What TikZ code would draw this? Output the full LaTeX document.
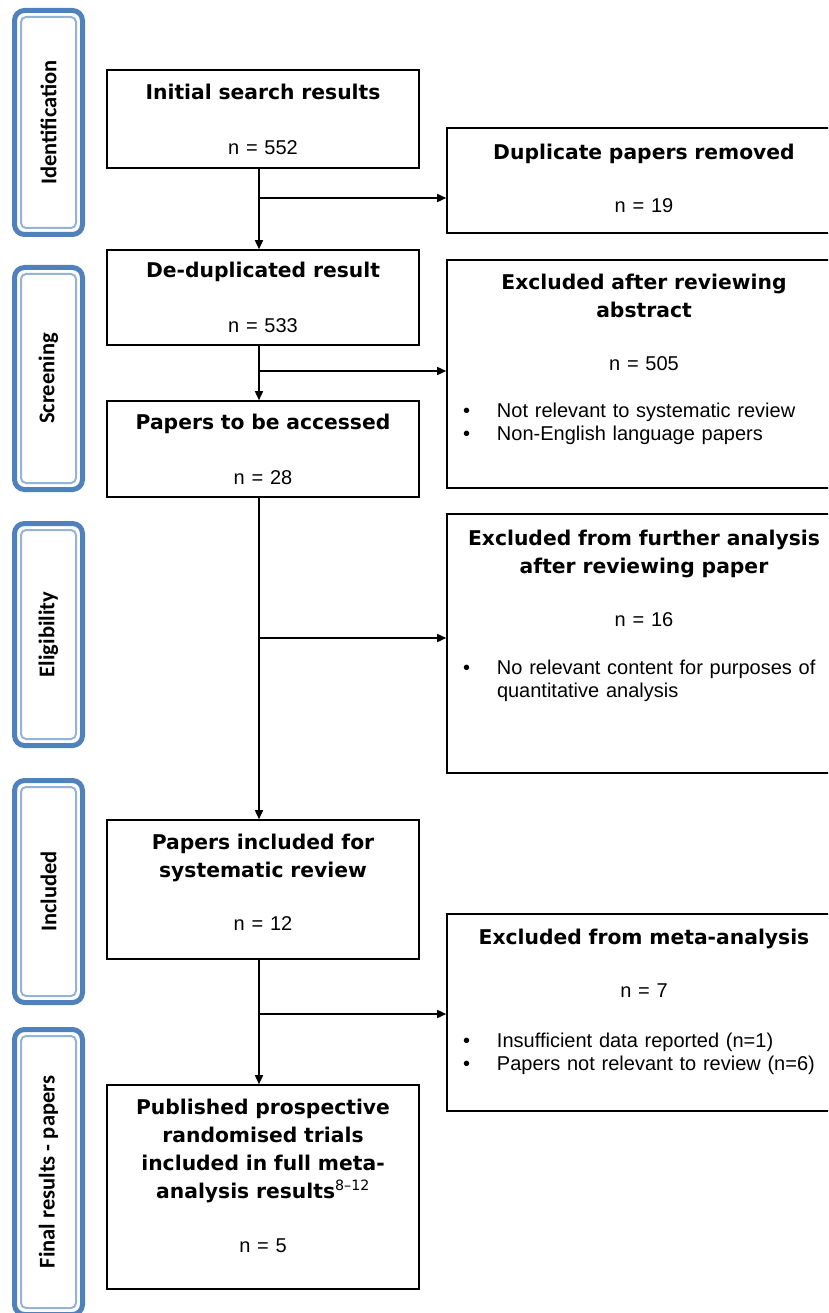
\documentclass[tikz,border=0pt]{standalone}
\usepackage{fontspec}
\setmainfont{Liberation Sans}
\newfontfamily\headfont{DejaVu Sans}
\newfontfamily\phasefont{Carlito}
\usetikzlibrary{arrows.meta}
\definecolor{phaseblue}{HTML}{4F81BD}
\definecolor{phaselight}{HTML}{95B3D7}
\newcommand{\bodytext}{\normalfont\fontsize{20}{23}\selectfont}
\newcommand{\bulletline}[1]{\makebox[34pt][l]{\textbullet}#1}
\newcommand{\bulletlist}[1]{\parbox[t]{380pt}{\bodytext\leftskip=9pt #1}}

\begin{document}
\begin{tikzpicture}[x=1pt, y=-1pt, line width=1.6pt, >={Triangle[length=9pt,width=8pt]},
        flow/.style={draw, rectangle, align=center, inner xsep=7pt, inner ysep=0pt,
            font=\headfont\bfseries\fontsize{20.3}{28}\selectfont},
        leftbox/.style={flow, text width=298pt, minimum width=312pt},
        rightbox/.style={flow, text width=380pt, minimum width=394pt},
        phase/.style={draw=phaseblue, line width=5pt, rounded corners=10pt, outer sep=0pt,
            minimum width=68pt, font=\phasefont\bfseries\fontsize{22.5}{26}\selectfont},
        phaseinner/.style={draw=phaselight, line width=2pt, rounded corners=5pt}]
    \path[use as bounding box, fill=white] (0,0) rectangle (828,1313);
    \clip (0,0) rectangle (828,1313);

    \node[phase, minimum height=224pt] (pident) at (48.5,122.5) {\rotatebox{90}{Identification}};
    \node[phase, minimum height=222pt] (pscreen) at (48.5,378.5) {\rotatebox{90}{Screening}};
    \node[phase, minimum height=222pt] (pelig) at (48.5,634.5) {\rotatebox{90}{Eligibility}};
    \node[phase, minimum height=222pt] (pincl) at (48.5,891.5) {\rotatebox{90}{Included}};
    \node[phase, minimum height=285pt] (pfinal) at (48.5,1172) {\rotatebox{90}{Final results - papers}};
    \foreach \p in {pident,pscreen,pelig,pincl,pfinal}
        \draw[phaseinner] ([shift={(6.5pt,6.5pt)}]\p.south west) rectangle ([shift={(-6.5pt,-6.5pt)}]\p.north east);

    \node[leftbox, minimum height=98pt] (init) at (263,119) {Initial search results\\[27pt]{\bodytext n = 552}};
    \node[leftbox, minimum height=95pt] (dedup) at (263,297.5) {De-duplicated result\\[27pt]{\bodytext n = 533}};
    \node[leftbox, minimum height=96pt] (access) at (263,449) {Papers to be accessed\\[27pt]{\bodytext n = 28}};
    \node[leftbox, minimum height=139pt, text depth=96pt] (included) at (263,889.5)
        {Papers included for\\systematic review\\[25pt]{\bodytext n = 12}};
    \node[leftbox, minimum height=204pt, text depth=161pt] (published) at (263,1187)
        {Published prospective\\randomised trials\\included in full meta-\\analysis results\textsuperscript{\mdseries 8–12}\\[26pt]{\bodytext n = 5}};

    \node[rightbox, minimum height=105pt, text depth=58pt] (dup) at (644,180.5) {Duplicate papers removed\\[25pt]{\bodytext n = 19}};
    \node[rightbox, minimum height=228pt, text depth=185pt] (abst) at (644,374)
        {Excluded after reviewing\\abstract\\[25pt]{\bodytext n = 505}\\[19pt]%
        \bulletlist{\bulletline{Not relevant to systematic review}\\\bulletline{Non-English language papers}}};
    \node[rightbox, minimum height=259pt, text depth=212pt] (further) at (644,643.5)
        {Excluded from further analysis\\after reviewing paper\\[25pt]{\bodytext n = 16}\\[20pt]%
        \bulletlist{\bulletline{No relevant content for purposes of}\\\hspace*{34pt}quantitative analysis}};
    \node[rightbox, minimum height=197pt, text depth=152pt] (meta) at (644,1012.5)
        {Excluded from meta-analysis\\[25pt]{\bodytext n = 7}\\[22pt]%
        \bulletlist{\bulletline{Insufficient data reported (n=1)}\\\bulletline{Papers not relevant to review (n=6)}}};

    \coordinate (b1) at (259,198);
    \coordinate (b2) at (259,371);
    \coordinate (b3) at (259,638);
    \coordinate (b4) at (259,1014);
    \foreach \u/\v/\w/\b in {init/dedup/dup/b1, dedup/access/abst/b2, access/included/further/b3, included/published/meta/b4}{
        \draw[->] (\u.south -| \b) -- (\v.north -| \b);
        \draw[->] (\b) -- (\b -| \w.west);
    }
\end{tikzpicture}
\end{document}
